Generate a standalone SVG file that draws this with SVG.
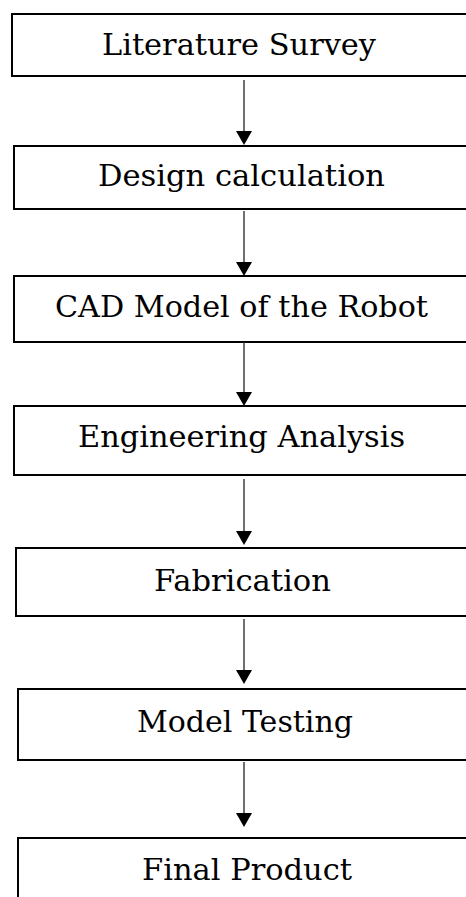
<svg xmlns="http://www.w3.org/2000/svg" width="466" height="897" viewBox="0 0 466 897">
<defs>
<style>
.box{fill:#fff;stroke:#000;stroke-width:2}
.lbl{font-family:"DejaVu Serif","Liberation Serif",serif;font-size:30px;fill:#000}
.conn{stroke:#333;stroke-width:1.4;fill:none}
.head{fill:#000}
</style>
</defs>
<rect width="466" height="897" fill="#fff"/>
<g id="n1"><rect class="box" x="12" y="14" width="470" height="62"/><text class="lbl" x="102" y="55" textLength="274" lengthAdjust="spacingAndGlyphs">Literature Survey</text></g>
<g id="n2"><rect class="box" x="14" y="146" width="470" height="63"/><text class="lbl" x="98" y="186" textLength="287" lengthAdjust="spacingAndGlyphs">Design calculation</text></g>
<g id="n3"><rect class="box" x="14" y="276" width="470" height="66"/><text class="lbl" x="55" y="317" textLength="373" lengthAdjust="spacingAndGlyphs">CAD Model of the Robot</text></g>
<g id="n4"><rect class="box" x="14" y="406" width="470" height="69"/><text class="lbl" x="78" y="447" textLength="327" lengthAdjust="spacingAndGlyphs">Engineering Analysis</text></g>
<g id="n5"><rect class="box" x="16" y="548" width="470" height="68"/><text class="lbl" x="154" y="591" textLength="177" lengthAdjust="spacingAndGlyphs">Fabrication</text></g>
<g id="n6"><rect class="box" x="18" y="689" width="470" height="71"/><text class="lbl" x="137" y="732" textLength="216" lengthAdjust="spacingAndGlyphs">Model Testing</text></g>
<g id="n7"><rect class="box" x="18" y="838" width="470" height="80"/><text class="lbl" x="142" y="880" textLength="210" lengthAdjust="spacingAndGlyphs">Final Product</text></g>
<g id="connectors">
<line class="conn" x1="244" y1="80" x2="244" y2="132"/><polygon class="head" points="236,131 252,131 244,145"/>
<line class="conn" x1="244" y1="211" x2="244" y2="263"/><polygon class="head" points="236,262 252,262 244,276"/>
<line class="conn" x1="244" y1="342" x2="244" y2="393"/><polygon class="head" points="236,392 252,392 244,406"/>
<line class="conn" x1="244" y1="479" x2="244" y2="532"/><polygon class="head" points="236,531 252,531 244,545"/>
<line class="conn" x1="244" y1="619" x2="244" y2="671"/><polygon class="head" points="236,670 252,670 244,684"/>
<line class="conn" x1="244" y1="762" x2="244" y2="814"/><polygon class="head" points="236,813 252,813 244,827"/>
</g>
</svg>
